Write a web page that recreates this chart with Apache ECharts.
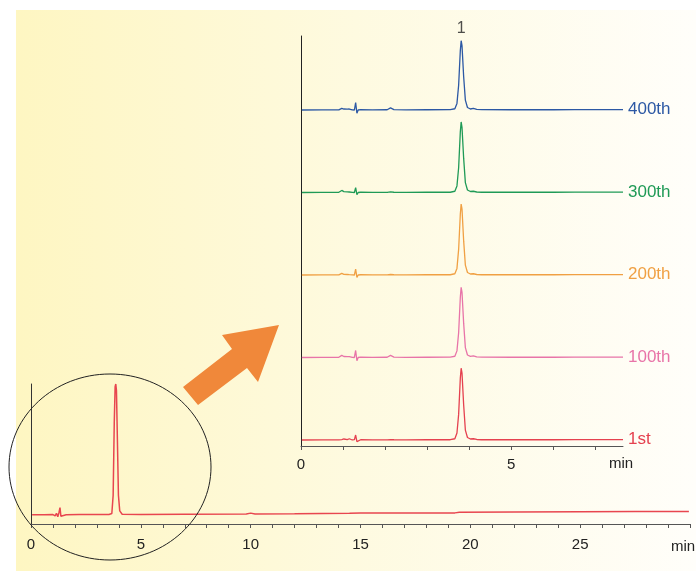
<!DOCTYPE html>
<html>
<head>
<meta charset="utf-8">
<script src="https://cdn.jsdelivr.net/npm/echarts@6/dist/echarts.min.js"></script>
<style>
html,body{margin:0;padding:0;background:#fff;}
#c{width:696px;height:571px;}
</style>
</head>
<body>
<div id="c"></div>
<script>
// ---- Main chromatogram (0-30 min) ----
const mainTime = [0.05, 0.6, 1.0, 1.1, 1.16, 1.22, 1.27, 1.32, 1.36, 1.42, 1.6, 2.2, 3.0, 3.55, 3.68, 3.74, 3.79, 3.83, 3.86, 3.89, 3.93, 3.98, 4.04, 4.15, 5.0, 7.0, 9.8, 10.0, 10.2, 12.0, 14.5, 15.0, 17.0, 19.3, 19.5, 22.0, 25.0, 27.5, 29.95];
const mainSignal = [0, 0, 0.2, -0.8, 1.2, -1.5, 1.5, 5.5, -1, 0.5, 0, 0.2, 0.3, 0.3, 1, 15, 70, 98, 100, 95, 60, 15, 3, 0.5, 0.3, 0.4, 0.6, 1.3, 0.6, 0.8, 1.2, 1.4, 1.5, 1.5, 2.0, 2.1, 2.4, 2.6, 2.5];
const mainTickValues = [0,1,2,3,4,5,6,7,8,9,10,11,12,13,14,15,16,17,18,19,20,21,22,23,24,25,26,27,28,29,30];
const mainLabelValues = [0, 5, 10, 15, 20, 25];

// ---- Inset: repeated injections ----
const insetNames = ['1st', '100th', '200th', '300th', '400th'];
const insetColors = ['#e5414f', '#e874a8', '#f0a043', '#1f9a56', '#2c58a4'];
const insetOffsets = [0, 1, 2, 3, 4];
const insetTime = [0.02,0.5,0.9,0.97,1.02,1.06,1.1,1.15,1.22,1.27,1.3,1.33,1.36,1.42,1.7,2.05,2.13,2.21,2.5,3.0,3.55,3.66,3.71,3.75,3.79,3.81,3.83,3.87,3.91,3.96,4.03,4.1,4.18,4.3,5.0,5.5,6.0,6.5,7.0,7.66];
const signal1st   = [0,0.001,0.002,0.005,0.012,0.02,0.005,0.015,0,0.005,0.06,-0.02,0,0.003,0.002,0.002,0.004,0.003,0.002,0.003, 0.003,0.015,0.085,0.31,0.75,0.87,0.81,0.42,0.12,0.03,0.012,0.015,0.006,0.003, 0.003,0.004,0.003,0.005,0.004,0.004];
const signal100th = [0,0.001,0.002,0.025,0.012,0.02,0.01,0.01,0.002,0,0.085,-0.04,0,0.004,0.002,0.003,0.025,0.004,0.002,0.003, 0.004,0.015,0.08,0.3,0.73,0.85,0.79,0.41,0.12,0.03,0.014,0.02,0.008,0.004, 0.003,0.004,0.003,0.005,0.004,0.004];
const signal200th = [0,0.001,0.002,0.02,0.008,0.015,0.006,0.004,0.002,0,0.07,-0.03,0,0.003,0.002,0.002,0.006,0.003,0.002,0.003, 0.003,0.015,0.08,0.31,0.74,0.86,0.8,0.41,0.12,0.03,0.012,0.015,0.006,0.003, 0.003,0.004,0.003,0.005,0.004,0.004];
const signal300th = [0,0.001,0.002,0.025,0.01,0.02,0.008,0.006,0.002,0,0.06,-0.025,0,0.003,0.002,0.002,0.008,0.003,0.002,0.003, 0.003,0.015,0.08,0.3,0.735,0.855,0.79,0.41,0.12,0.03,0.012,0.015,0.006,0.003, 0.003,0.004,0.003,0.005,0.004,0.004];
const signal400th = [0,0.001,0.002,0.02,0.012,0.025,0.01,0.012,0.002,0,0.09,-0.04,0,0.004,0.002,0.003,0.025,0.004,0.002,0.003, 0.004,0.015,0.08,0.3,0.72,0.84,0.78,0.4,0.12,0.03,0.012,0.02,0.008,0.004, 0.003,0.004,0.003,0.005,0.004,0.004];
const insetSignals = [signal1st, signal100th, signal200th, signal300th, signal400th];
const insetTickValues = [0,1,2,3,4,5,6,7];
const insetLabelValues = [0, 5];
const peakLabel = '1';
const peakIndex = 25;

const FONT = '"Liberation Sans", Arial, sans-serif';

const chart = echarts.init(document.getElementById('c'), null, {renderer: 'canvas'});

const insetSeries = insetNames.map((name, i) => ({
  type: 'line',
  name: name,
  xAxisIndex: 1,
  yAxisIndex: 1,
  symbol: 'none',
  silent: true,
  lineStyle: {color: insetColors[i], width: 1.3},
  data: insetTime.map((t, k) => [t, insetSignals[i][k] + insetOffsets[i]]),
  endLabel: {show: true, formatter: '{a}', color: insetColors[i], fontSize: 17, fontFamily: FONT, distance: 5},
  z: 3
}));

const topIdx = insetSignals.length - 1;
const peakSeries = {
  type: 'scatter',
  xAxisIndex: 1,
  yAxisIndex: 1,
  silent: true,
  symbol: 'circle',
  symbolSize: 2,
  itemStyle: {color: 'rgba(0,0,0,0)'},
  label: {show: true, position: 'top', distance: 3, formatter: peakLabel, color: '#222', fontSize: 16, fontFamily: FONT},
  data: [[insetTime[peakIndex], insetSignals[topIdx][peakIndex] + insetOffsets[topIdx]]],
  z: 5
};

const axisTextStyle = {color: '#222', fontSize: 15, fontFamily: FONT};

chart.setOption({
  animation: false,
  backgroundColor: 'transparent',
  graphic: [
    {type: 'rect', z: -100, silent: true,
     shape: {x: 16, y: 10, width: 680, height: 561},
     style: {fill: new echarts.graphic.LinearGradient(0, 0, 1, 0, [
       {offset: 0, color: '#fef6c2'}, {offset: 0.5, color: '#fefae0'}, {offset: 1, color: '#fffefa'}])}},
    {type: 'ellipse', z: 10, silent: true,
     shape: {cx: 110, cy: 467, rx: 101, ry: 93},
     style: {fill: 'none', stroke: '#222', lineWidth: 1}},
    {type: 'polygon', z: 10, silent: true,
     shape: {points: [[183,387],[198,405],[247,368],[258,382],[279,325],[222,335],[232,349]]},
     style: {fill: '#f0883a'}},
    {type: 'text', z: 10, silent: true, x: 671, y: 547,
     style: {text: 'min', fill: '#222', fontSize: 15, fontFamily: FONT, verticalAlign: 'middle'}},
    {type: 'text', z: 10, silent: true, x: 609, y: 464,
     style: {text: 'min', fill: '#222', fontSize: 15, fontFamily: FONT, verticalAlign: 'middle'}}
  ],
  grid: [
    {left: 31, top: 384, width: 659, height: 140, containLabel: false},
    {left: 301, top: 36, width: 322, height: 410, containLabel: false}
  ],
  xAxis: [
    {type: 'value', gridIndex: 0, min: 0, max: 30,
     axisLine: {show: true, onZero: false, lineStyle: {color: '#555', width: 1}},
     axisTick: {show: true, length: 4, lineStyle: {color: '#555'}, customValues: mainTickValues},
     axisLabel: Object.assign({margin: 13, customValues: mainLabelValues}, axisTextStyle),
     splitLine: {show: false}},
    {type: 'value', gridIndex: 1, min: 0, max: 7.66,
     axisLine: {show: true, onZero: false, lineStyle: {color: '#555', width: 1}},
     axisTick: {show: true, length: 4, lineStyle: {color: '#555'}, customValues: insetTickValues},
     axisLabel: Object.assign({margin: 11, customValues: insetLabelValues}, axisTextStyle),
     splitLine: {show: false}}
  ],
  yAxis: [
    {type: 'value', gridIndex: 0, min: -7, max: 100,
     axisLine: {show: true, lineStyle: {color: '#333', width: 1}},
     axisTick: {show: false}, axisLabel: {show: false}, splitLine: {show: false}},
    {type: 'value', gridIndex: 1, min: -0.073, max: 4.897,
     axisLine: {show: true, lineStyle: {color: '#222', width: 1}},
     axisTick: {show: false}, axisLabel: {show: false}, splitLine: {show: false}}
  ],
  series: [
    {type: 'line', name: 'main', xAxisIndex: 0, yAxisIndex: 0, symbol: 'none', silent: true,
     lineStyle: {color: '#e8464f', width: 1.5},
     data: mainTime.map((t, k) => [t, mainSignal[k]]), z: 3}
  ].concat(insetSeries, [peakSeries])
});
</script>
</body>
</html>
